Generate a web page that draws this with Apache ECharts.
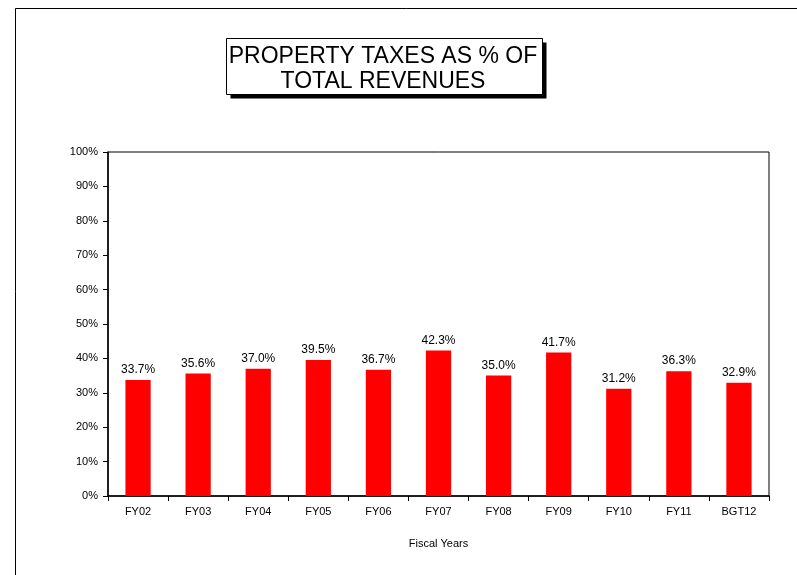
<!DOCTYPE html>
<html>
<head>
<meta charset="utf-8">
<script src="https://cdn.jsdelivr.net/npm/echarts@6/dist/echarts.min.js"></script>
<style>
  html, body { margin: 0; padding: 0; background: #fff; }
  #chart { width: 797px; height: 575px; }
</style>
</head>
<body>
<div id="chart"></div>
<script>
// Fiscal years and the share of total revenues coming from property taxes (%)
const fiscalYears = ['FY02', 'FY03', 'FY04', 'FY05', 'FY06', 'FY07', 'FY08', 'FY09', 'FY10', 'FY11', 'BGT12'];
const propertyTaxShare = [33.7, 35.6, 37.0, 39.5, 36.7, 42.3, 35.0, 41.7, 31.2, 36.3, 32.9];
const titleLines = ['PROPERTY TAXES AS % OF', 'TOTAL REVENUES'];
const xAxisTitle = 'Fiscal Years';

const chart = echarts.init(document.getElementById('chart'));
const font = 'Arial, "Liberation Sans", Helvetica, sans-serif';

// Title box: white panel with a hard drop shadow, text centred in two lines
const box = { x: 226.5, y: 38.5, w: 316, h: 56 };

chart.setOption({
  animation: false,
  backgroundColor: '#fff',
  graphic: [
    {
      type: 'polyline',
      silent: true,
      shape: { points: [[15.5, 575], [15.5, 8.5], [797, 8.5]] },
      style: { stroke: '#000', lineWidth: 1, fill: null }
    },
    {
      type: 'rect',
      silent: true,
      shape: { x: box.x + 4, y: box.y + 4, width: box.w, height: box.h },
      style: { fill: '#000' },
      z: 10
    },
    {
      type: 'rect',
      silent: true,
      shape: { x: box.x, y: box.y, width: box.w, height: box.h },
      style: { fill: '#fff', stroke: '#000', lineWidth: 1 },
      z: 11
    },
    {
      type: 'text',
      silent: true,
      x: 383,
      y: 44,
      z: 12,
      style: {
        text: titleLines.join('\n'),
        align: 'center',
        verticalAlign: 'top',
        font: '23px ' + font,
        lineHeight: 25,
        fill: '#000'
      }
    }
  ],
  grid: {
    left: 108,
    right: 28,
    top: 152,
    bottom: 79,
    show: true,
    borderColor: '#000',
    borderWidth: 1
  },
  xAxis: {
    type: 'category',
    data: fiscalYears,
    name: xAxisTitle,
    nameLocation: 'middle',
    nameGap: 42,
    nameTextStyle: { fontFamily: font, fontSize: 11, color: '#000' },
    axisLine: { lineStyle: { color: '#000', width: 1.5 } },
    axisTick: { show: true, length: 5, lineStyle: { color: '#000' } },
    axisLabel: { fontFamily: font, fontSize: 11, color: '#000', margin: 10 }
  },
  yAxis: {
    type: 'value',
    min: 0,
    max: 100,
    interval: 10,
    axisLine: { show: true, lineStyle: { color: '#000', width: 1.5 } },
    axisTick: { show: true, length: 5, lineStyle: { color: '#000' } },
    splitLine: { show: false },
    axisLabel: {
      fontFamily: font,
      fontSize: 11,
      color: '#000',
      margin: 10,
      formatter: '{value}%'
    }
  },
  series: [
    {
      type: 'bar',
      data: propertyTaxShare,
      barWidth: '42%',
      itemStyle: { color: '#ff0000' },
      label: {
        show: true,
        position: 'top',
        distance: 4,
        fontFamily: font,
        fontSize: 12,
        color: '#000',
        formatter: p => p.value.toFixed(1) + '%'
      }
    }
  ]
});
</script>
</body>
</html>
